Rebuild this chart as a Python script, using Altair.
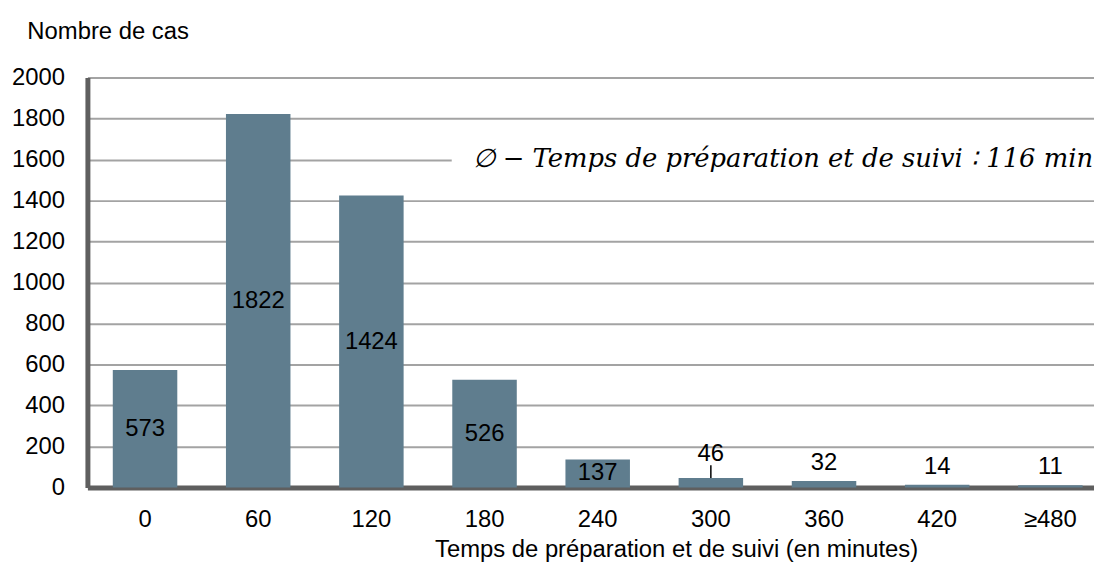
import altair as alt
import pandas as pd

# ---- data ----
categories = ["0", "60", "120", "180", "240", "300", "360", "420", "≥480"]
counts = [573, 1822, 1424, 526, 137, 46, 32, 14, 11]
y_ticks = [0, 200, 400, 600, 800, 1000, 1200, 1400, 1600, 1800, 2000]
annotation_text = "∅ − Temps de préparation et de suivi ∶ 116 min"

df = pd.DataFrame({"cat": categories, "n": counts})

FONT = "Liberation Sans"
FS = 24
BAR = "#5f7d8e"
AXIS = "#5f5f5f"
GRID = "#a3a3a3"

x_enc = alt.X(
    "cat:N",
    sort=categories,
    scale=alt.Scale(paddingInner=0.43, paddingOuter=0.1625, align=0.69),
    axis=alt.Axis(
        title="Temps de préparation et de suivi (en minutes)",
        labelAngle=0,
        labelPadding=20,
        ticks=False,
        domainColor=AXIS,
        domainWidth=5,
        labelFontSize=FS,
        titleFontSize=FS,
        titleFontWeight="normal",
        titleX=593,
        titleY=62,
        titleBaseline="middle",
        titleAlign="center",
    ),
)

y_enc = alt.Y(
    "n:Q",
    scale=alt.Scale(domain=[0, 2000]),
    axis=alt.Axis(
        values=y_ticks,
        format="d",
        title="Nombre de cas",
        titleAngle=0,
        titleAlign="left",
        titleBaseline="middle",
        titleX=-61,
        titleY=-46,
        titleFontSize=FS,
        titleFontWeight="normal",
        labelFontSize=FS,
        labelPadding=23,
        ticks=False,
        domainColor=AXIS,
        domainWidth=5,
        gridColor=GRID,
        gridWidth=2,
    ),
)

base = alt.Chart(df)

bars = base.mark_bar(color=BAR).encode(x=x_enc, y=y_enc)

inside = (
    base.transform_filter("datum.n >= 100")
    .transform_calculate(mid="datum.n / 2")
    .mark_text(fontSize=FS, color="black", baseline="middle")
    .encode(x=alt.X("cat:N", sort=categories), y=alt.Y("mid:Q"), text="n:Q")
)

outside = (
    base.transform_filter("datum.n < 100 && datum.n != 46")
    .mark_text(fontSize=FS, color="black", baseline="alphabetic", dy=-11)
    .encode(x=alt.X("cat:N", sort=categories), y=alt.Y("n:Q"), text="n:Q")
)

lead = (
    base.transform_filter("datum.n == 46")
    .transform_calculate(top="datum.n + 62")
    .mark_rule(color="black", strokeWidth=1.5)
    .encode(x=alt.X("cat:N", sort=categories), y=alt.Y("n:Q"), y2="top:Q")
)

lead_label = (
    base.transform_filter("datum.n == 46")
    .transform_calculate(top="datum.n + 62")
    .mark_text(fontSize=FS, color="black", baseline="alphabetic", dy=-4)
    .encode(x=alt.X("cat:N", sort=categories), y=alt.Y("top:Q"), text="n:Q")
)

ann_df = pd.DataFrame({"label": [annotation_text]})
ann_box = alt.Chart(ann_df).mark_rect(color="white").encode(
    x=alt.value(367), x2=alt.value(1014), y=alt.datum(1700), y2=alt.datum(1500)
)
ann_text = alt.Chart(ann_df).mark_text(
    fontSize=26, font="DejaVu Serif", fontStyle="italic", align="right", baseline="middle"
).encode(x=alt.value(1013), y=alt.datum(1600), text="label:N")

chart = (
    alt.layer(bars, inside, outside, lead, lead_label, ann_box, ann_text)
    .properties(
        width=1014,
        height=413,
        padding={"left": 80, "top": 68, "right": 0, "bottom": 74},
        autosize=alt.AutoSizeParams(type="none"),
        background="white",
    )
    .configure(font=FONT)
    .configure_view(strokeWidth=0)
    .configure_axis(labelColor="black", titleColor="black", labelFont=FONT, titleFont=FONT)
)

chart.save("out.html", embed_options={"renderer": "svg", "actions": False})
